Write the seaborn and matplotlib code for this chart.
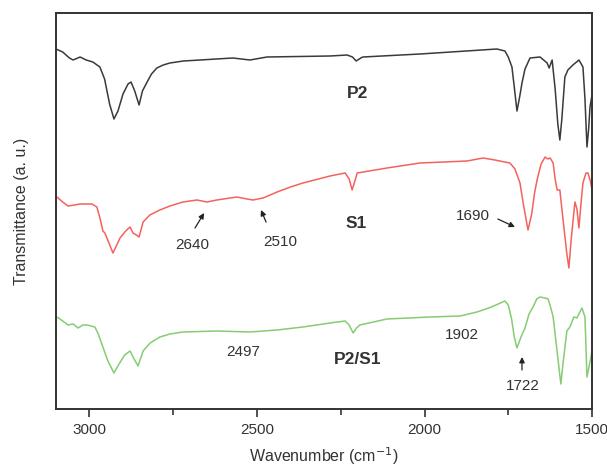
import matplotlib
matplotlib.use("Agg")
import matplotlib.pyplot as plt
import seaborn as sns
import pandas as pd

# ---- data (wavenumber in cm^-1, transmittance in arbitrary offset units) ----
p2_wn = [3100, 3080, 3060, 3049, 3028, 3010, 2990, 2969, 2955, 2940, 2927, 2915, 2900,
         2885, 2876, 2865, 2852, 2842, 2828, 2815, 2799, 2780, 2760, 2720, 2670, 2572,
         2521, 2470, 2282, 2231, 2215, 2204, 2190, 2184, 2013, 1784, 1760, 1750, 1739,
         1732, 1724, 1716, 1709, 1700, 1685, 1655, 1634, 1628, 1619, 1610, 1602, 1596,
         1590, 1581, 1572, 1557, 1539, 1527, 1521, 1515, 1510, 1506, 1500]
p2_t = [360, 357, 351, 349, 352, 349, 347, 342, 330, 305, 290, 298, 315,
        325, 327, 318, 304, 318, 327, 335, 341, 344, 346, 348, 349, 351,
        349, 352, 353, 354, 352, 348, 351, 352, 355, 360, 358, 352, 342,
        322, 298, 312, 326, 340, 351, 352, 346, 341, 349, 320, 285, 269,
        290, 332, 339, 344, 349, 342, 310, 262, 280, 302, 314]

s1_wn = [3097, 3080, 3064, 3045, 3028, 2993, 2978, 2968, 2960, 2954, 2942, 2930, 2920,
         2909, 2892, 2879, 2870, 2860, 2852, 2840, 2820, 2790, 2760, 2721, 2679, 2649,
         2620, 2560, 2530, 2512, 2482, 2440, 2400, 2363, 2282, 2237, 2225, 2216, 2206,
         2201, 2112, 2013, 1873, 1825, 1790, 1760, 1745, 1730, 1715, 1705, 1691, 1680,
         1672, 1664, 1652, 1640, 1632, 1625, 1616, 1610, 1604, 1596, 1585, 1575, 1569,
         1562, 1551, 1545, 1539, 1533, 1527, 1518, 1512, 1505, 1500]
s1_t = [212, 207, 203, 204, 205, 205, 202, 190, 178, 176, 166, 156, 163,
        171, 178, 182, 176, 174, 172, 187, 194, 199, 203, 207, 209, 207,
        209, 212, 210, 209, 211, 217, 222, 226, 233, 236, 230, 219, 230,
        236, 241, 246, 248, 251, 249, 247, 246, 240, 226, 205, 179, 195,
        215, 229, 245, 252, 250, 251, 246, 230, 219, 219, 185, 155, 141,
        170, 207, 200, 181, 205, 226, 236, 236, 228, 219]

ps_wn = [3097, 3080, 3064, 3049, 3034, 3020, 3007, 2984, 2975, 2960, 2945, 2927, 2910,
         2895, 2879, 2867, 2855, 2840, 2819, 2790, 2760, 2721, 2619, 2521, 2440, 2363,
         2282, 2237, 2225, 2213, 2203, 2193, 2112, 1984, 1894, 1843, 1800, 1760, 1750,
         1740, 1732, 1724, 1712, 1700, 1688, 1676, 1665, 1655, 1640, 1631, 1622, 1616,
         1605, 1593, 1585, 1575, 1566, 1554, 1545, 1530, 1521, 1515, 1503, 1500]
ps_t = [92, 88, 84, 85, 81, 84, 84, 82, 76, 62, 48, 36, 46,
        54, 58, 50, 43, 58, 66, 72, 75, 77, 78, 77, 79, 82,
        86, 88, 84, 76, 81, 84, 90, 92, 93, 97, 102, 108, 104,
        90, 72, 61, 72, 81, 95, 102, 110, 112, 111, 110, 100, 92,
        60, 25, 50, 78, 82, 92, 91, 101, 92, 32, 52, 60]

series_names = ["P2", "S1", "P2/S1"]
series_colors = ["#3a3a3a", "#f4625c", "#86cc74"]

xticks = [3000, 2500, 2000, 1500]
minor_xticks = [2750, 2250, 1750]

# ---- figure ----
sns.set_style("ticks")
plt.rcParams["font.family"] = ["Liberation Sans", "DejaVu Sans"]

fig = plt.figure(figsize=(6.07, 4.68), dpi=100)
ax = fig.add_axes([56 / 607, 1 - 409 / 468, 536 / 607, 396 / 468])

for name, wn, t, c in zip(series_names, [p2_wn, s1_wn, ps_wn], [p2_t, s1_t, ps_t], series_colors):
    df = pd.DataFrame({"wn": wn, "t": t})
    sns.lineplot(data=df, x="wn", y="t", color=c, lw=1.1, sort=False, ax=ax)

ax.set_xlim(3100, 1500)
ax.set_ylim(0, 396)
ax.set_yticks([])
ax.set_xticks(xticks)
ax.set_xticks(minor_xticks, minor=True)
ax.set_xticklabels([str(v) for v in xticks], fontsize=11, color="#333333")
ax.tick_params(axis="x", which="major", direction="out", length=6, width=1.2, color="#333333", pad=4)
ax.tick_params(axis="x", which="minor", direction="out", length=4, width=1.2, color="#333333")
for sp in ax.spines.values():
    sp.set_visible(True)
    sp.set_linewidth(1.4)
    sp.set_color("#333333")

ax.set_xlabel("Wavenumber (cm$^{-1}$)", fontsize=11.5, color="#333333")
ax.set_ylabel("Transmittance (a. u.)", fontsize=11.5, color="#333333")
ax.xaxis.set_label_coords(0.5, -0.092)
ax.yaxis.set_label_coords(-0.05, 0.5)

# curve labels
lab_kw = dict(fontsize=12.5, fontweight="bold", color="#333333", ha="center", va="center")
ax.text(2199, 315, "P2", **lab_kw)
ax.text(2204, 186, "S1", **lab_kw)
ax.text(2201, 49, "P2/S1", **lab_kw)

# peak annotations
num_kw = dict(fontsize=11, color="#333333", ha="center", va="center")
arr = dict(arrowstyle="-|>", color="#222222", lw=0.9, mutation_scale=8, shrinkA=0, shrinkB=0)
ax.text(2694, 164, "2640", **num_kw)
ax.annotate("", xy=(2658, 196), xytext=(2685, 181), arrowprops=arr)
ax.text(2431, 167, "2510", **num_kw)
ax.annotate("", xy=(2488, 199), xytext=(2473, 187), arrowprops=arr)
ax.text(1855, 193, "1690", **num_kw)
ax.annotate("", xy=(1730, 182), xytext=(1781, 190), arrowprops=arr)
ax.text(2542, 57, "2497", **num_kw)
ax.text(1888, 74, "1902", **num_kw)
ax.text(1706, 23, "1722", **num_kw)
ax.annotate("", xy=(1709, 52), xytext=(1709, 39), arrowprops=arr)

fig.savefig("out.png", dpi=100)
